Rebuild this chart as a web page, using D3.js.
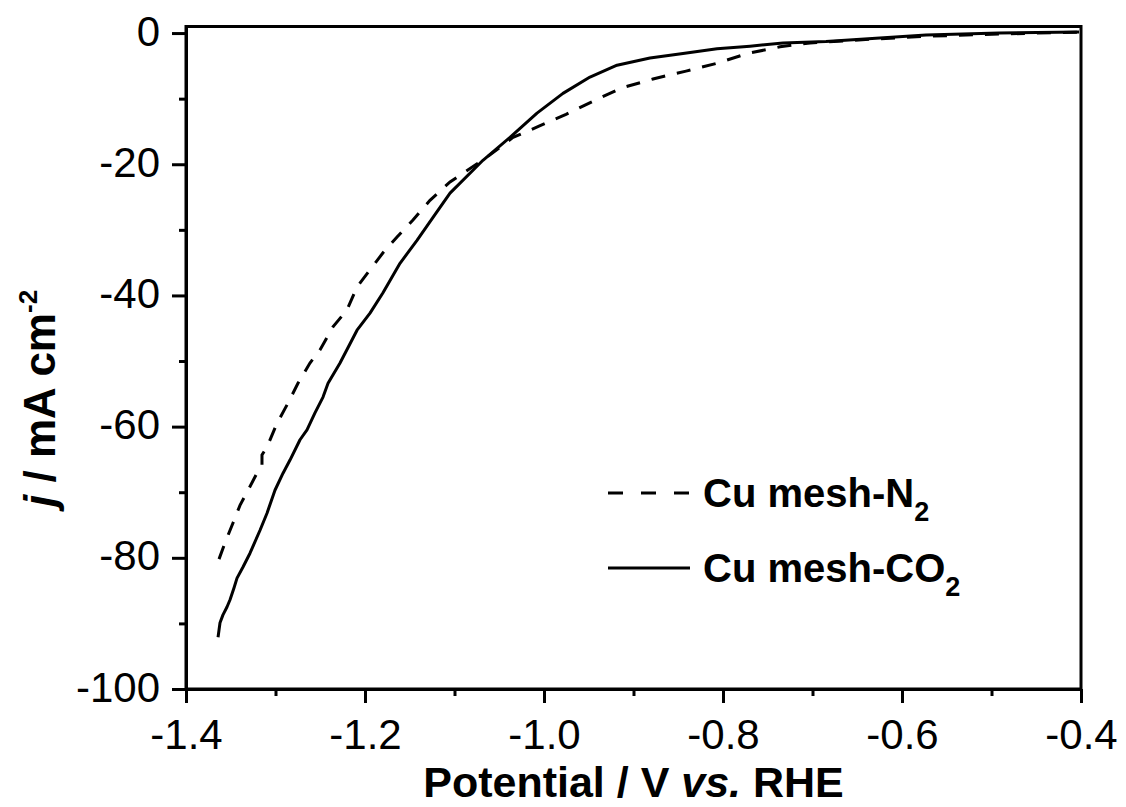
<!DOCTYPE html>
<html>
<head>
<meta charset="utf-8">
<script src="https://cdn.jsdelivr.net/npm/d3@7/dist/d3.min.js"></script>
<style>
  html, body { margin: 0; padding: 0; background: #fff; }
  svg { display: block; }
  text { font-family: "Liberation Sans", Arial, Helvetica, sans-serif; fill: #000; }
</style>
</head>
<body>
<svg id="chart" width="1126" height="807"></svg>
<script>
// ---- data ----
const seriesNames = ["Cu mesh-N", "Cu mesh-CO"];
const seriesSubs = ["2", "2"];

const potentialN2 = [-1.3631,-1.3564,-1.3475,-1.3397,-1.3307,-1.3207,-1.3151,-1.3151,-1.3095,-1.2983,-1.2860,-1.2749,-1.2615,-1.2503,-1.2358,-1.2201,-1.2089,-1.1944,-1.1799,-1.1642,-1.1464,-1.1274,-1.1050,-1.0626,-1.0346,-1.0056,-0.9754,-0.9453,-0.9140,-0.8782,-0.8413,-0.8067,-0.7721,-0.7363,-0.7028,-0.6291,-0.5732,-0.4916,-0.4022];
const currentN2 = [-80.2,-77.7,-74.7,-72.0,-69.7,-67.1,-66.0,-64.3,-63.1,-59.5,-56.4,-53.4,-50.3,-48.3,-44.8,-42.2,-38.7,-36.1,-33.5,-31.1,-28.5,-25.5,-22.7,-18.8,-15.9,-14.2,-12.4,-10.4,-8.4,-7.0,-5.8,-4.6,-3.1,-2.1,-1.5,-0.9,-0.5,-0.15,0.15];

const potentialCO2 = [-1.3642,-1.3631,-1.3620,-1.3587,-1.3542,-1.3508,-1.3464,-1.3430,-1.3363,-1.3285,-1.3173,-1.3095,-1.3006,-1.2916,-1.2838,-1.2726,-1.2648,-1.2559,-1.2469,-1.2413,-1.2279,-1.2089,-1.1944,-1.1799,-1.1609,-1.1419,-1.1240,-1.1050,-1.0682,-1.0380,-1.0078,-0.9788,-0.9486,-0.9184,-0.8816,-0.8447,-0.8067,-0.7698,-0.7330,-0.6849,-0.6291,-0.5732,-0.4916,-0.4022];
const currentCO2 = [-92.1,-91.0,-89.9,-88.7,-87.5,-86.4,-84.6,-83.1,-81.4,-79.3,-75.8,-73.2,-69.7,-67.1,-65.1,-62.0,-60.5,-57.9,-55.5,-53.4,-50.3,-45.3,-42.7,-39.6,-35.1,-31.6,-28.1,-24.4,-19.4,-15.9,-12.2,-9.2,-6.7,-4.9,-3.8,-3.1,-2.4,-2.0,-1.5,-1.3,-0.8,-0.3,0.0,0.15];

const xTicks = [-1.4, -1.2, -1.0, -0.8, -0.6, -0.4];
const xMinorTicks = [-1.3, -1.1, -0.9, -0.7, -0.5];
const yTicks = [0, -20, -40, -60, -80, -100];
const yMinorTicks = [-10, -30, -50, -70, -90];

const xTitle = ["Potential / V ", "vs.", " RHE"];
const yTitle = ["j", " / mA cm", "-2"];

// ---- layout ----
const svg = d3.select("#chart");
const x = d3.scaleLinear().domain([-1.4, -0.4]).range([186, 1081]);
const y = d3.scaleLinear().domain([-100, 1]).range([689, 26.5]);
const fs = 42;

// frame
svg.append("rect")
  .attr("x", x(-1.4)).attr("y", y(1))
  .attr("width", x(-0.4) - x(-1.4)).attr("height", y(-100) - y(1))
  .attr("fill", "none").attr("stroke", "#000").attr("stroke-width", 3);

// bottom axis
const gx = svg.append("g").attr("transform", `translate(0,${y(-100)})`)
  .call(d3.axisBottom(x).tickValues(xTicks).tickSize(14).tickSizeOuter(0).tickPadding(16)
    .tickFormat(d => d.toFixed(1)));
gx.append("g").call(d3.axisBottom(x).tickValues(xMinorTicks).tickSize(7).tickSizeOuter(0).tickFormat(""));
// left axis
const gy = svg.append("g").attr("transform", `translate(${x(-1.4)},0)`)
  .call(d3.axisLeft(y).tickValues(yTicks).tickSize(14).tickSizeOuter(0).tickPadding(12)
    .tickFormat(d => String(d)));
gy.append("g").call(d3.axisLeft(y).tickValues(yMinorTicks).tickSize(7).tickSizeOuter(0).tickFormat(""));

svg.selectAll(".domain").attr("stroke", "#000").attr("stroke-width", 3);
svg.selectAll(".tick line").attr("stroke", "#000").attr("stroke-width", 3);
svg.selectAll(".tick text")
  .style("font-family", '"Liberation Sans", Arial, sans-serif')
  .style("font-size", fs + "px").attr("fill", "#000");
gx.selectAll(".tick text").attr("dy", "0.72em");
gy.selectAll(".tick text").attr("dy", "0.29em");

// curves
const line = d3.line().x(d => x(d[0])).y(d => y(d[1]));
const n2 = potentialN2.map((p, i) => [p, currentN2[i]]);
const co2 = potentialCO2.map((p, i) => [p, currentCO2[i]]);

svg.append("path").datum(co2).attr("d", line)
  .attr("fill", "none").attr("stroke", "#000").attr("stroke-width", 3)
  .attr("stroke-linejoin", "round");
svg.append("path").datum(n2).attr("d", line)
  .attr("fill", "none").attr("stroke", "#000").attr("stroke-width", 3)
  .attr("stroke-dasharray", "14,12");

// legend
const legend = svg.append("g");
const legRows = [{ y: 493, dash: "15,18", base: 507 }, { y: 568, dash: null, base: 582 }];
legRows.forEach((r, i) => {
  const l = legend.append("line")
    .attr("x1", 608).attr("x2", 690).attr("y1", r.y).attr("y2", r.y)
    .attr("stroke", "#000").attr("stroke-width", 3);
  if (r.dash) l.attr("stroke-dasharray", r.dash);
  const t = legend.append("text").attr("x", 703).attr("y", r.base)
    .style("font-size", "40px").style("font-weight", "bold");
  t.append("tspan").text(seriesNames[i]);
  t.append("tspan").attr("dy", 14).style("font-size", "27px").text(seriesSubs[i]);
});

// x title
const xt = svg.append("text").attr("x", (x(-1.4) + x(-0.4)) / 2).attr("y", 797)
  .attr("text-anchor", "middle").style("font-size", "43px").style("font-weight", "bold");
xt.append("tspan").text(xTitle[0]);
xt.append("tspan").style("font-style", "italic").text(xTitle[1]);
xt.append("tspan").text(xTitle[2]);

// y title
const yt = svg.append("text").attr("transform", "translate(55,507) rotate(-90)")
  .attr("x", 0).attr("y", 0).attr("text-anchor", "start")
  .style("font-size", "44px").style("font-weight", "bold");
yt.append("tspan").style("font-style", "italic").text(yTitle[0]);
yt.append("tspan").text(yTitle[1]);
yt.append("tspan").attr("dy", -18).style("font-size", "26px").text(yTitle[2]);
</script>
</body>
</html>
